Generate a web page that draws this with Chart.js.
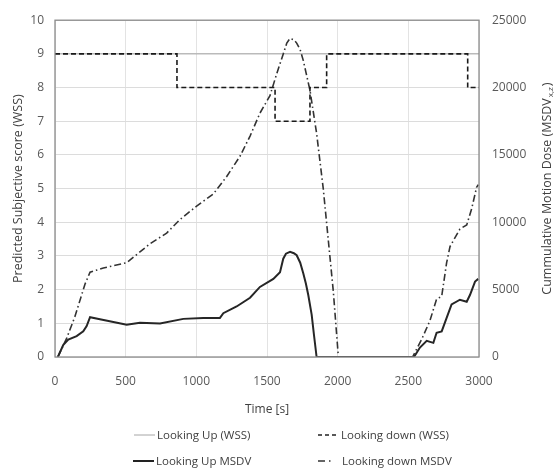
<!DOCTYPE html>
<html><head><meta charset="utf-8">
<script src="https://cdn.jsdelivr.net/npm/chart.js@4"></script>
<style>
html,body{margin:0;padding:0;background:#fff;}
#wrap{position:relative;width:555px;height:468px;overflow:hidden;}
#c{position:absolute;left:0;top:0;}
.leg{position:absolute;font-family:'Open Sans',sans-serif;font-size:11.5px;color:#404040;white-space:nowrap;display:flex;align-items:center;height:16px;line-height:16px;}
.leg svg{display:block;margin-right:1px;}
</style></head>
<body><div id="wrap"><canvas id="c" width="555" height="468" style="width:555px;height:468px"></canvas>
<div class="leg" style="left:134px;top:427px"><svg width="22" height="4"><line x1="0" y1="2" x2="21" y2="2" stroke="#a6a6a6" stroke-width="1"/></svg>Looking Up (WSS)</div>
<div class="leg" style="left:318px;top:427px"><svg width="22" height="4"><line x1="0" y1="2" x2="21" y2="2" stroke="#222" stroke-width="1.5" stroke-dasharray="4,3"/></svg>Looking down (WSS)</div>
<div class="leg" style="left:133px;top:453px"><svg width="22" height="4"><line x1="0" y1="2" x2="21" y2="2" stroke="#222" stroke-width="2"/></svg>Looking Up MSDV</div>
<div class="leg" style="left:318px;top:453px"><svg width="23" height="4"><line x1="0" y1="2" x2="22" y2="2" stroke="#333" stroke-width="1.5" stroke-dasharray="7,4,1.5,10"/></svg>Looking down MSDV</div>
</div>
<script>
// ---- data ----
const timeUpWSS = [0, 3000];
const upWSS = [9, 9];

const timeDownWSS = [0, 863, 863, 1557, 1557, 1804, 1804, 1922, 1922, 2920, 2920, 3000];
const downWSS = [9, 9, 8, 8, 7, 7, 8, 8, 9, 9, 8, 8];

const timeUpMSDV = [20, 59, 94, 153, 200, 224, 248, 318, 413, 507, 601, 743, 908, 1049, 1167, 1191, 1285, 1380, 1450, 1545, 1592, 1615, 1634, 1663, 1690, 1710, 1735, 1757, 1775, 1792, 1816, 1832, 1851, 2540, 2582, 2630, 2677, 2700, 2736, 2771, 2806, 2865, 2913, 2936, 2972, 2995];
const upMSDV = [0, 900, 1300, 1550, 1900, 2300, 2950, 2800, 2600, 2400, 2550, 2480, 2830, 2900, 2900, 3250, 3750, 4400, 5200, 5800, 6300, 7300, 7670, 7800, 7700, 7550, 7000, 6200, 5450, 4600, 3150, 1670, 0, 0, 700, 1200, 1050, 1800, 1900, 2900, 3900, 4250, 4100, 4600, 5600, 5800];

const timeDownMSDV = [20, 83, 141, 212, 248, 342, 507, 672, 790, 884, 1002, 1120, 1215, 1309, 1380, 1450, 1521, 1568, 1615, 1640, 1663, 1690, 1710, 1735, 1757, 1804, 1851, 1898, 1969, 2005, 2530, 2594, 2653, 2700, 2736, 2771, 2795, 2865, 2913, 2948, 2983, 2995];
const downMSDV = [0, 1400, 3000, 5400, 6300, 6600, 7000, 8400, 9200, 10200, 11200, 12100, 13400, 14900, 16400, 18100, 19400, 21000, 22500, 23300, 23650, 23550, 23300, 22800, 22000, 19800, 16600, 12500, 4900, 0, 0, 1300, 2700, 4300, 4500, 7000, 8200, 9500, 9800, 11000, 12600, 12800];

const xTicks = [0, 500, 1000, 1500, 2000, 2500, 3000];
const leftTicks = [0, 1, 2, 3, 4, 5, 6, 7, 8, 9, 10];
const rightTicks = [0, 5000, 10000, 15000, 20000, 25000];

const pts = (xs, ys) => xs.map((x, i) => ({x, y: ys[i]}));

const FONT = "'Open Sans', sans-serif";
const TICKC = '#595959';

const framePlugin = {
  id: 'frame',
  afterDatasetsDraw(chart) {
    const {ctx, chartArea: a} = chart;
    ctx.save();
    ctx.strokeStyle = '#8c8c8c';
    ctx.lineWidth = 1.3;
    ctx.strokeRect(a.left, a.top, a.right - a.left, a.bottom - a.top);
    ctx.restore();
  },
  afterDraw(chart) {
    const {ctx, chartArea: a} = chart;
    ctx.save();
    const main = 'Cummulative Motion Dose (MSDV';
    const sub = 'x,z';
    const end = ')';
    ctx.fillStyle = '#404040';
    ctx.font = "12.5px " + FONT;
    const w1 = ctx.measureText(main).width;
    const w3 = ctx.measureText(end).width;
    ctx.font = "8px " + FONT;
    const w2 = ctx.measureText(sub).width;
    const total = w1 + w2 + w3 + 2;
    const cy = (a.top + a.bottom) / 2;
    ctx.translate(547, cy);
    ctx.rotate(-Math.PI / 2);
    ctx.textBaseline = 'middle';
    ctx.textAlign = 'left';
    let x = -total / 2;
    ctx.font = "12.5px " + FONT;
    ctx.fillText(main, x, 0);
    x += w1 + 1;
    ctx.font = "8px " + FONT;
    ctx.fillText(sub, x, 4);
    x += w2 + 1;
    ctx.font = "12.5px " + FONT;
    ctx.fillText(end, x, 0);
    ctx.restore();
  }
};

new Chart(document.getElementById('c'), {
  type: 'line',
  data: {
    datasets: [
      {label: 'Looking Up (WSS)', data: pts(timeUpWSS, upWSS), yAxisID: 'y', borderColor: '#a6a6a6', borderWidth: 1, pointRadius: 0, tension: 0, order: 4},
      {label: 'Looking down (WSS)', data: pts(timeDownWSS, downWSS), yAxisID: 'y', borderColor: '#1a1a1a', borderWidth: 1.6, borderDash: [5, 3], pointRadius: 0, tension: 0, order: 1},
      {label: 'Looking Up MSDV', data: pts(timeUpMSDV, upMSDV), yAxisID: 'y1', borderColor: '#262626', borderWidth: 2, pointRadius: 0, tension: 0, order: 2},
      {label: 'Looking down MSDV', data: pts(timeDownMSDV, downMSDV), yAxisID: 'y1', borderColor: '#333333', borderWidth: 1.6, borderDash: [7, 3, 1.5, 3], pointRadius: 0, tension: 0, order: 3}
    ]
  },
  options: {
    responsive: false,
    animation: false,
    layout: {padding: {top: 16, bottom: 51, left: 0, right: 0}},
    plugins: {legend: {display: false}, tooltip: {enabled: false}},
    scales: {
      x: {
        type: 'linear', min: 0, max: 3000,
        afterBuildTicks: s => { s.ticks = xTicks.map(v => ({value: v})); },
        afterFit: s => { s.height = 60; },
        grid: {color: '#e3e3e3', drawTicks: false},
        border: {display: false},
        ticks: {color: TICKC, font: {family: FONT, size: 12}, padding: 17, maxRotation: 0, callback: v => String(v)},
        title: {display: true, text: 'Time [s]', color: '#404040', font: {family: FONT, size: 12}, padding: 0}
      },
      y: {
        position: 'left', min: 0, max: 10,
        afterBuildTicks: s => { s.ticks = leftTicks.map(v => ({value: v})); },
        afterFit: s => { s.width = 55; },
        grid: {color: '#dcdcdc', drawTicks: false},
        border: {display: false},
        ticks: {color: TICKC, font: {family: FONT, size: 12}, padding: 11},
        title: {display: true, text: 'Predicted Subjective score (WSS)', color: '#404040', font: {family: FONT, size: 12.5}, padding: {top: 11, bottom: 0}}
      },
      y1: {
        position: 'right', min: 0, max: 25000,
        afterBuildTicks: s => { s.ticks = rightTicks.map(v => ({value: v})); },
        afterFit: s => { s.width = 76; },
        grid: {drawOnChartArea: false, drawTicks: false},
        border: {display: false},
        ticks: {color: TICKC, font: {family: FONT, size: 12}, padding: 13, callback: v => String(v)}
      }
    }
  },
  plugins: [framePlugin]
});
</script>
</body></html>
